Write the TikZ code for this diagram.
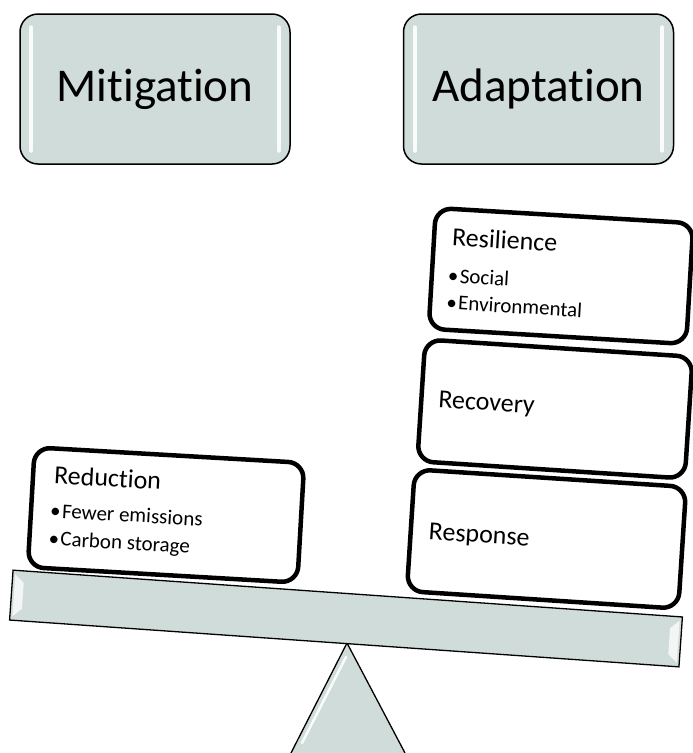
\documentclass[tikz,border=0pt]{standalone}
\usepackage{fontspec}
\setmainfont{Carlito}[Ligatures={NoCommon,NoRequired,NoContextual}]
\usetikzlibrary{calc}
\definecolor{slab}{RGB}{208,220,217}
\begin{document}
\begin{tikzpicture}[x=1pt,y=-1pt,
  topbox/.style={draw=black, line width=1.5pt, fill=slab, rounded corners=18pt,
    minimum width=270pt, minimum height=150pt, inner sep=0pt,
    font=\fontsize{47}{56}\selectfont},
  wbox/.style={draw=black, line width=4.5pt, fill=white, rounded corners=16pt, inner sep=0pt},
  ttl/.style={anchor=base west, inner sep=0pt, font=\fontsize{26}{30}\selectfont},
  itm/.style={anchor=base west, inner sep=0pt, font=\fontsize{21}{25}\selectfont},
  gloss/.style={white, line width=4pt, line cap=round, opacity=0.9},
  bevel/.style={white, opacity=0.75},
]
\useasboundingbox (0,0) rectangle (693,753);

% top boxes
\node[topbox] (mit) at (155,89) {Mitigation};
\draw[gloss] ($(mit.north west)+(12,14)$) -- ($(mit.south west)+(12,-14)$);
\draw[gloss] ($(mit.north east)+(-12,14)$) -- ($(mit.south east)+(-12,-14)$);
\node[topbox] (ada) at (538.5,89) {Adaptation};
\draw[gloss] ($(ada.north west)+(12,14)$) -- ($(ada.south west)+(12,-14)$);
\draw[gloss] ($(ada.north east)+(-12,14)$) -- ($(ada.south east)+(-12,-14)$);

% fulcrum
\coordinate (apex) at (347,643);
\coordinate (bl) at (291,753);
\coordinate (br) at (405,753);
\fill[slab] (bl) -- (apex) -- (br) -- cycle;
\draw[white, line width=2.5pt, line cap=round, opacity=0.9] (346,657) -- (302,743);
\draw[line width=1.3pt] (bl) -- (apex) -- (br);

% beam
\node[draw=black, line width=1.3pt, fill=slab, minimum width=671pt, minimum height=50pt,
  inner sep=0pt, rotate=-4.0] (beam) at (346,618.5) {};
\begin{scope}[shift={(beam.center)}, rotate=-4.0]
  \fill[bevel] (-333,-21) -- (-324,-13) -- (-324,13) -- (-333,21) -- cycle;
  \fill[bevel] (333,-21) -- (324,-13) -- (324,13) -- (333,21) -- cycle;
\end{scope}

% Reduction
\begin{scope}[shift={(166,515)}, rotate=-3.3, transform shape]
  \node[wbox, minimum width=270pt, minimum height=120pt] (red) at (0,0) {};
  \node[ttl] (redt) at (-114,-25) {Reduction};
  \node[itm] (red1) at (-116,9) {•\hspace{1.5pt}Fewer emissions};
  \node[itm] (red2) at (-116,37) {•\hspace{1.5pt}Carbon storage};
\end{scope}

% Response
\begin{scope}[shift={(546.5,539)}, rotate=-3.7, transform shape]
  \node[wbox, minimum width=272pt, minimum height=122pt] (rsp) at (0,0) {};
  \node[ttl] (rspt) at (-118,8) {Response};
\end{scope}

% Recovery
\begin{scope}[shift={(555,409)}, rotate=-3.7, transform shape]
  \node[wbox, minimum width=268pt, minimum height=122pt] (rec) at (0,0) {};
  \node[ttl] (rect) at (-117,6) {Recovery};
\end{scope}

% Resilience
\begin{scope}[shift={(561,276)}, rotate=-3.4, transform shape]
  \node[wbox, minimum width=258pt, minimum height=121pt] (res) at (0,0) {};
  \node[ttl] (rest) at (-111,-24) {Resilience};
  \node[itm] (res1) at (-113,13) {•\hspace{1.5pt}Social};
  \node[itm] (res2) at (-113,40) {•\hspace{1.5pt}Environmental};
\end{scope}
\end{tikzpicture}
\end{document}
